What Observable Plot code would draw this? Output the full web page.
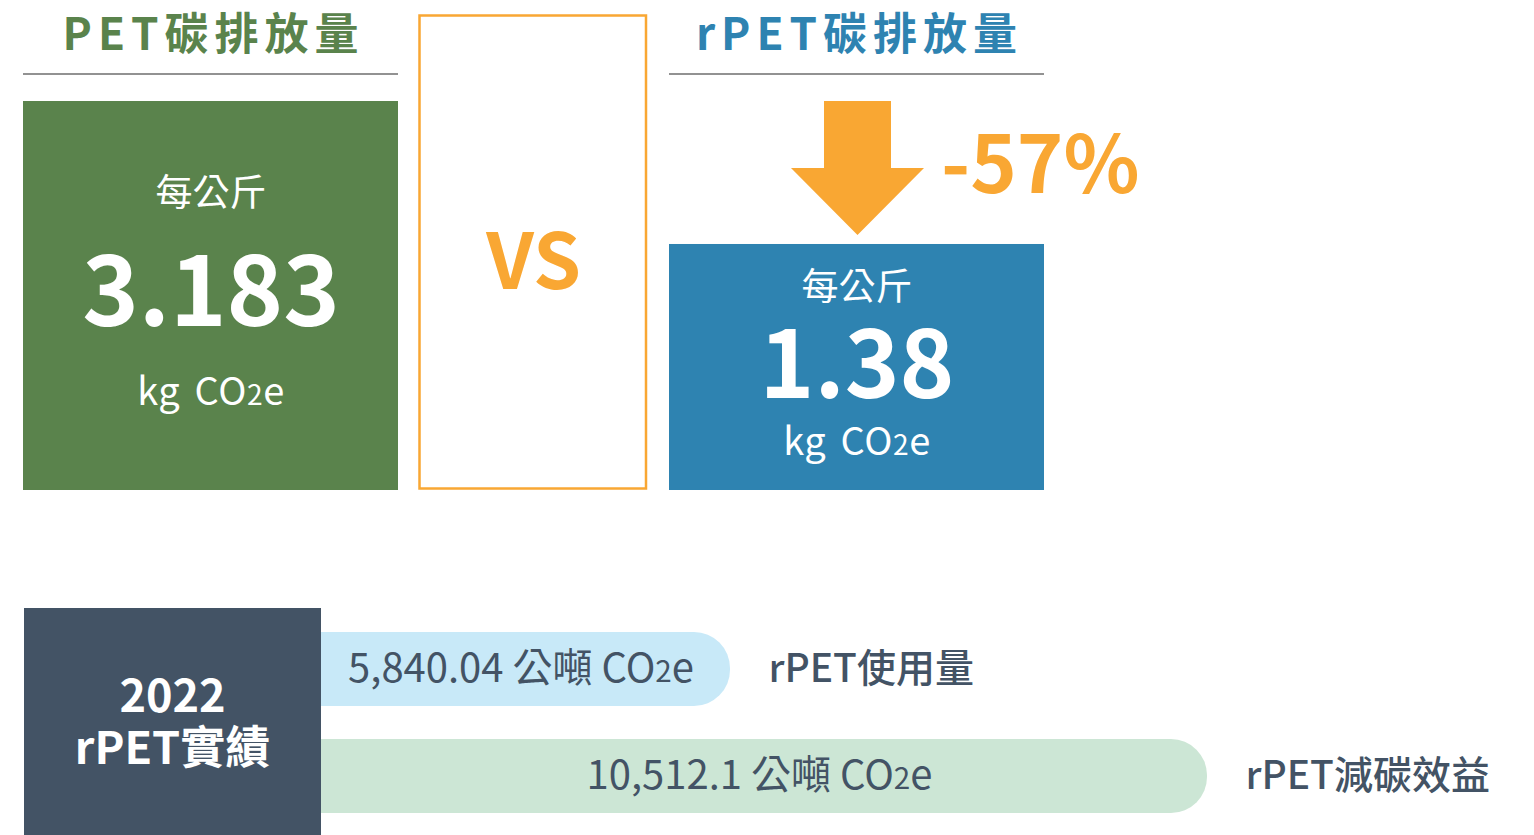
<!DOCTYPE html>
<html lang="zh-Hant">
<head>
<meta charset="utf-8">
<title>PET vs rPET 碳排放量</title>
<script src="https://cdn.jsdelivr.net/npm/d3@7"></script>
<script src="https://cdn.jsdelivr.net/npm/@observablehq/plot@0.6"></script>
<style>
  html, body { margin: 0; padding: 0; background: #ffffff; }
  #chart { width: 1534px; height: 835px; overflow: hidden; }
  #chart svg { display: block; }
</style>
</head>
<body>
<div id="chart"></div>
<script>
// ---------- data ----------
const perKgNames = ["PET", "rPET"];
const perKgValues = [3.183, 1.38];
const perKgTitles = ["PET碳排放量", "rPET碳排放量"];
const perKgPrefix = "每公斤";
const perKgUnit = "kg CO2e";
const compareLabel = "VS";

const totalNames = ["rPET使用量", "rPET減碳效益"];
const totalValues = [5840.04, 10512.1];
const totalUnit = "公噸 CO2e";
const panelLines = ["2022", "rPET實績"];

// ---------- styles ----------
const GREEN = "#5a834c", BLUE = "#2e83b1", ORANGE = "#f9a733", SLATE = "#435365";
const LIGHT_BLUE = "#c8e9f8", LIGHT_GREEN = "#cce6d5", RULE = "#6e6e6e";
const FONT = '"Noto Sans CJK TC", "Noto Sans", sans-serif';
const NS = "http://www.w3.org/2000/svg";

function svgEl(tag, attrs, text) {
  const e = document.createElementNS(NS, tag);
  for (const k in attrs) e.setAttribute(k, attrs[k]);
  if (text != null) e.textContent = text;
  return e;
}

// turn "CO2e" into CO₂e with a smaller "2"
function subscriptCO2(svg, wordSpacing) {
  svg.querySelectorAll("text").forEach(t => {
    if (t.querySelector("tspan")) return;
    const s = t.textContent;
    const i = s.indexOf("CO2e");
    if (i < 0) return;
    t.textContent = "";
    t.appendChild(document.createTextNode(s.slice(0, i + 2)));
    t.appendChild(svgEl("tspan", {"font-size": "0.74em"}, "2"));
    t.appendChild(document.createTextNode(s.slice(i + 3)));
    if (wordSpacing && s.startsWith("kg")) {
      t.setAttribute("word-spacing", wordSpacing);
      t.setAttribute("letter-spacing", 0.6);
    }
  });
}

// ---------- top: per-kg comparison ----------
const perKg = perKgNames.map((name, i) => ({name, value: perKgValues[i], title: perKgTitles[i]}));
const boxBase = -1.722;
const change = Math.round((perKgValues[1] / perKgValues[0] - 1) * 100);
const changeLabel = `${change}%`;
const textOffsets = {
  PET: {prefix: 93, value: 194, unit: 291.5, size: 96},
  rPET: {prefix: 44, value: 124, unit: 198.5, size: 93}
};

function headerMark(index, scales) {
  const {x, color} = scales;
  const bw = x.bandwidth();
  const g = svgEl("g", {});
  perKg.forEach(d => {
    const x0 = x(d.name);
    g.appendChild(svgEl("text", {
      x: x0 + bw / 2 + 3, y: 50, "text-anchor": "middle", "font-size": 44, "font-weight": 700,
      "letter-spacing": 6, fill: color(d.name), "font-family": FONT
    }, d.title));
    g.appendChild(svgEl("line", {x1: x0, x2: x0 + bw, y1: 74, y2: 74, stroke: RULE, "stroke-width": 1.5}));
  });
  const left = x(perKgNames[0]) + bw + 21.5, right = x(perKgNames[1]) - 23;
  g.appendChild(svgEl("rect", {x: left, y: 15.5, width: right - left, height: 473, fill: "none", stroke: ORANGE, "stroke-width": 2.5}));
  g.appendChild(svgEl("text", {
    x: (left + right) / 2 + 1, y: 289, "text-anchor": "middle", "font-size": 77, "font-weight": 700,
    fill: ORANGE, "font-family": FONT
  }, compareLabel));
  return g;
}

function arrowMark(index, scales) {
  const {x, y} = scales;
  const cx = x(perKgNames[1]) + x.bandwidth() / 2 + 1;
  const y0 = y(perKgValues[0]);
  const y1 = y(perKgValues[1]) - 9;
  const sw = 33.5, hw = 66.5, hl = 67;
  return svgEl("path", {
    d: `M${cx - sw},${y0}H${cx + sw}V${y1 - hl}H${cx + hw}L${cx},${y1}L${cx - hw},${y1 - hl}H${cx - sw}Z`,
    fill: ORANGE
  });
}

const boxText = perKg.flatMap(d => {
  const o = textOffsets[d.name];
  return [
    Plot.text([d], {x: "name", y: "value", text: () => perKgPrefix, dy: o.prefix, fill: "white", fontSize: 37}),
    Plot.text([d], {x: "name", y: "value", text: r => String(r.value), dy: o.value, fill: "white", fontSize: o.size, fontWeight: 700}),
    Plot.text([d], {x: "name", y: "value", text: () => perKgUnit, dy: o.unit, fill: "white", fontSize: 38})
  ];
});

const topPlot = Plot.plot({
  width: 1534, height: 500, margin: 0,
  style: {fontFamily: FONT, background: "transparent", overflow: "visible"},
  x: {type: "band", domain: perKgNames, range: [23, 1044], paddingInner: 0.4195, paddingOuter: 0, round: false, axis: null},
  y: {domain: [boxBase, d3.max(perKgValues)], range: [490, 101], axis: null},
  color: {domain: perKgNames, range: [GREEN, BLUE]},
  marks: [
    headerMark,
    Plot.barY(perKg, {x: "name", y1: boxBase, y2: "value", fill: "name"}),
    ...boxText,
    arrowMark,
    Plot.text([changeLabel], {
      x: () => perKgNames[1], y: () => (perKgValues[0] + perKgValues[1]) / 2, text: d => d,
      dx: 84, dy: -5, textAnchor: "start", fill: ORANGE, fontSize: 79, fontWeight: 700
    })
  ]
});

// ---------- bottom: 2022 totals ----------
const totals = totalNames.map((name, i) => ({name, value: totalValues[i]}));
const fmt = d3.format(",");
const xDomain = [0, d3.max(totalValues)], xRange = [133.75, 1207];
const panelRight = 321;
const panelEdgeValue = d3.scaleLinear(xRange, xDomain)(panelRight);

function panelMark() {
  const g = svgEl("g", {});
  g.appendChild(svgEl("rect", {x: 24, y: 108, width: panelRight - 24, height: 227, fill: SLATE}));
  panelLines.forEach((line, i) => {
    g.appendChild(svgEl("text", {
      x: (24 + panelRight) / 2, y: 212 + i * 52, "text-anchor": "middle", "font-size": 45,
      "font-weight": 700, fill: "white", "font-family": FONT
    }, line));
  });
  return g;
}

const bottomPlot = Plot.plot({
  width: 1534, height: 335, margin: 0,
  style: {fontFamily: FONT, background: "transparent", overflow: "visible"},
  x: {domain: xDomain, range: xRange, axis: null},
  y: {type: "band", domain: totalNames, range: [132, 313], paddingInner: 0.31, paddingOuter: 0, round: false, axis: null},
  color: {domain: totalNames, range: [LIGHT_BLUE, LIGHT_GREEN]},
  marks: [
    Plot.barX(totals, {y: "name", x: "value", fill: "name", rx: 36}),
    Plot.text(totals, {
      y: "name", x: d => (panelEdgeValue + d.value) / 2, text: d => `${fmt(d.value)} ${totalUnit}`,
      dx: -5, fill: SLATE, fontSize: 40
    }),
    Plot.text(totals, {
      y: "name", x: "value", text: "name", dx: 38, textAnchor: "start",
      fill: SLATE, fontSize: 39, fontWeight: 500
    }),
    panelMark
  ]
});

subscriptCO2(topPlot, 5);
subscriptCO2(bottomPlot, 0);
const chart = document.getElementById("chart");
chart.appendChild(topPlot);
chart.appendChild(bottomPlot);
</script>
</body>
</html>
